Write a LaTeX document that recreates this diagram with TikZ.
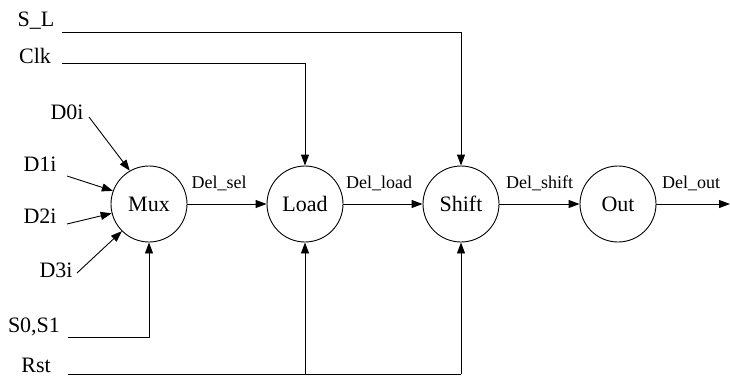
\documentclass[tikz,border=0pt]{standalone}
\usepackage{fontspec}
\setmainfont{Liberation Serif}
\usetikzlibrary{arrows.meta}
\begin{document}
\begin{tikzpicture}[x=1pt,y=-1pt,
  st/.style={draw,circle,minimum size=76pt,inner sep=0pt,line width=0.9pt,font=\fontsize{22}{24}\selectfont},
  lbl/.style={inner sep=0pt,font=\fontsize{22}{24}\selectfont},
  sml/.style={inner sep=0pt,font=\fontsize{18}{20}\selectfont},
  wire/.style={line width=0.9pt},
  arr/.style={line width=0.9pt,-{Triangle[length=11pt,width=8pt]}}]
\useasboundingbox (0,0) rectangle (730,378);
% states
\node[st] (mux) at (149,204) {Mux};
\node[st] (load) at (305,204) {Load};
\node[st] (shift) at (461,204) {Shift};
\node[st] (out) at (618,204) {Out};
% input labels
\node[lbl] (sl) at (36,21) {S\_L};
\node[lbl] (clk) at (35,56) {Clk};
\node[lbl] (d0) at (67,112) {D0i};
\node[lbl] (d1) at (40,164) {D1i};
\node[lbl] (d2) at (40,216) {D2i};
\node[lbl] (d3) at (56,270) {D3i};
\node[lbl] (s01) at (34,327) {S0,S1};
\node[lbl] (rst) at (36,365) {Rst};
% coordinates
\coordinate (slA) at (62,32);
\coordinate (slB) at (461,32);
\coordinate (clkA) at (62,63);
\coordinate (clkB) at (305,63);
\coordinate (d0a) at (89,117);
\coordinate (d1a) at (67,176);
\coordinate (d2a) at (67,224);
\coordinate (d3a) at (77,273);
\coordinate (sA) at (68,337);
\coordinate (sB) at (149,337);
\coordinate (rA) at (68,374);
\coordinate (rB) at (305,374);
\coordinate (rC) at (461,374);
\coordinate (oE) at (730,204);
% wires
\draw[arr] (slA) -- (slB) -- (shift.north);
\draw[arr] (clkA) -- (clkB) -- (load.north);
\draw[arr] (d0a) -- (mux.120);
\draw[arr] (d1a) -- (mux.160);
\draw[arr] (d2a) -- (mux.194);
\draw[arr] (d3a) -- (mux.225);
\draw[arr] (sA) -- (sB) -- (mux.south);
\draw[wire] (rA) -- (rC);
\draw[arr] (rB) -- (load.south);
\draw[arr] (rC) -- (shift.south);
\draw[arr] (mux) -- node[sml,above=13pt,pos=0.4]{Del\_sel} (load);
\draw[arr] (load) -- node[sml,above=13pt,pos=0.45]{Del\_load} (shift);
\draw[arr] (shift) -- node[sml,above=13pt,pos=0.5]{Del\_shift} (out);
\draw[arr] (out) -- node[sml,above=13pt,pos=0.47]{Del\_out} (oE);
\end{tikzpicture}
\end{document}
